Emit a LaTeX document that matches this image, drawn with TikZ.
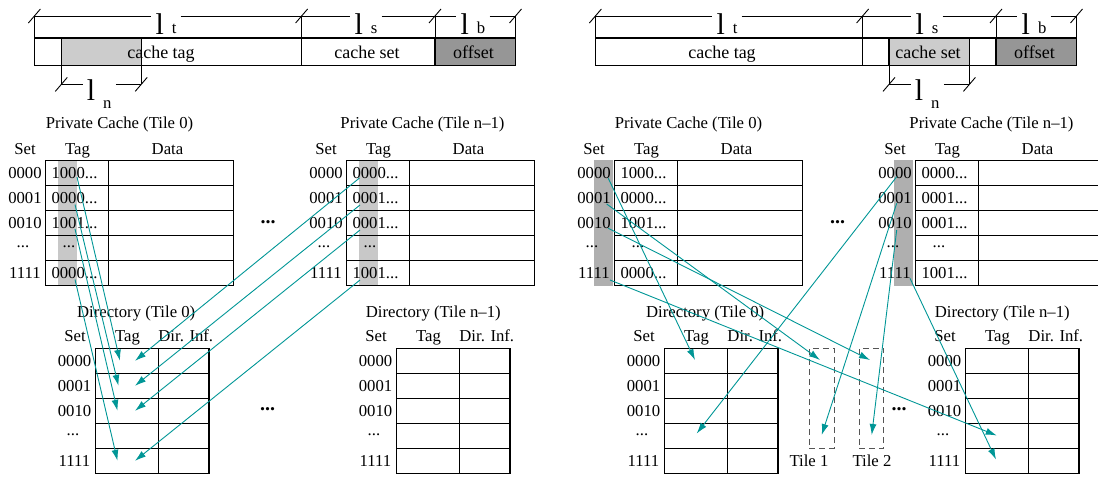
\documentclass[tikz,border=0pt]{standalone}
\usepackage{fontspec}
\setmainfont{Liberation Serif}
\usetikzlibrary{arrows.meta}

\definecolor{linkteal}{RGB}{0,150,150}
\definecolor{lightshade}{RGB}{204,204,204}
\definecolor{stripshade}{RGB}{200,200,200}
\definecolor{darkstrip}{RGB}{175,175,175}
\definecolor{offsetshade}{RGB}{150,150,150}
\definecolor{tileedge}{RGB}{85,85,85}

\tikzset{
  txt/.style={inner sep=0pt, anchor=base, font=\fontsize{16.7}{18}\selectfont},
  bartxt/.style={inner sep=0pt, anchor=base, font=\fontsize{18}{20}\selectfont},
  bigdots/.style={inner sep=0pt, anchor=base, font=\fontsize{20}{22}\selectfont\bfseries},
  frame/.style={line width=1.1pt, black},
  dimln/.style={line width=0.9pt, black},
  biglbl/.style={inner xsep=4pt, inner ysep=0pt, anchor=base},
  flow/.style={draw=linkteal, line width=0.9pt, -{Latex[length=11pt,width=7pt]}},
  tilebox/.style={draw=tileedge, line width=1pt, dash pattern=on 6pt off 4pt,
    minimum width=24.7pt, minimum height=100pt, inner sep=0pt},
}

% length label: big "l" followed by a smaller index letter
\newcommand{\lenlabel}[3]{{\fontsize{30}{30}\selectfont l}\kern#3\raisebox{#2}{\fontsize{16.7}{18}\selectfont #1}}
% slanted end mark of a dimension line
\newcommand{\dimtick}[2]{\draw[dimln] (#1-6,#2+7) -- (#1+6,#2-7);}

% address bar: #1 prefix, #2/#3 edges of the highlighted field
\newcommand{\addrbar}[3]{%
  \fill[offsetshade] (435,38) rectangle (515.5,65.5);
  \fill[lightshade] (#2,38) rectangle (#3,65.5);
  \draw[frame] (34.4,38) rectangle (515.5,65.5);
  \draw[frame] (301.6,38) -- (301.6,65.5) (435,38) -- (435,65.5);
  \draw[frame] (#2,38) rectangle (#3,65.5);
  \node[bartxt] (#1ftag) at (161,58.5) {cache tag};
  \node[bartxt] (#1fset) at (367,58.5) {cache set};
  \node[bartxt] (#1foff) at (473.5,58.5) {offset};
  % widths of the fields
  \coordinate (#1dy) at (0,16);
  \foreach \x in {34.4,301.6,435,515.5} {\draw[dimln] (\x,16) -- (\x,38); \dimtick{\x}{16}}
  \node[biglbl] (#1lt) at (166,34.5) {\lenlabel{t}{1pt}{8pt}};
  \node[biglbl] (#1ls) at (366,34.5) {\lenlabel{s}{1pt}{8pt}};
  \node[biglbl] (#1lb) at (473,34.5) {\lenlabel{b}{1pt}{8pt}};
  \draw[dimln] (34.4,16) -- (#1lt.west |- #1dy) (#1lt.east |- #1dy) -- (301.6,16);
  \draw[dimln] (301.6,16) -- (#1ls.west |- #1dy) (#1ls.east |- #1dy) -- (435,16);
  \draw[dimln] (435,16) -- (#1lb.west |- #1dy) (#1lb.east |- #1dy) -- (515.5,16);
  % width of the highlighted field
  \coordinate (#1ny) at (0,84.4);
  \draw[dimln] (#2,65.5) -- (#2,84.4) (#3,65.5) -- (#3,84.4);
  \dimtick{#2}{84.4}\dimtick{#3}{84.4}
  \node[biglbl] (#1ln) at ({(#2+#3)/2-2},100.5) {\lenlabel{n}{-7.5pt}{8pt}};
  \draw[dimln] (#2,84.4) -- (#1ln.west |- #1ny) (#1ln.east |- #1ny) -- (#3,84.4);
}

% private cache: #1 prefix, #2 x shift, #3 tile, #4 title x, #5-#8 tags
\newcommand{\cachetbl}[8]{%
  \begin{scope}[xshift=#2pt]
    \node[txt] (#1title) at (#4,128.5) {Private Cache (Tile #3)};
    \node[txt] (#1hset) at (25,154.3) {Set};
    \node[txt] (#1htag) at (77.5,154.3) {Tag};
    \node[txt] (#1hdata) at (167.5,154.3) {Data};
    \draw[frame] (45.7,160.7) rectangle (233.3,285.7);
    \foreach \y in {185.7,210.7,235.7,260.7} {\draw[frame] (45.7,\y) -- (233.3,\y);}
    \draw[frame] (108.3,160.7) -- (108.3,285.7);
    \node[txt] (#1s0) at (25,178.5) {0000};
    \node[txt] (#1s1) at (25,203.5) {0001};
    \node[txt] (#1s2) at (25,228.5) {0010};
    \node[txt] (#1s3) at (23,247.5) {...};
    \node[txt] (#1s4) at (25,278.5) {1111};
    \node[txt] (#1t0) at (74.5,178.5) {#5};
    \node[txt] (#1t1) at (74.5,203.5) {#6};
    \node[txt] (#1t2) at (74.5,228.5) {#7};
    \node[txt] (#1t3) at (69,247.5) {...};
    \node[txt] (#1t4) at (74.5,278.5) {#8};
  \end{scope}}

% directory: #1 prefix, #2 x shift, #3 tile, #4 title x
\newcommand{\dirtbl}[4]{%
  \begin{scope}[xshift=#2pt]
    \node[txt] (#1title) at (#4,317.7) {Directory (Tile #3)};
    \node[txt] (#1hset) at (75,341.7) {Set};
    \node[txt] (#1htag) at (127.5,341.7) {Tag};
    \node[txt] (#1hinf) at (185.8,341.7) {Dir. Inf.};
    \draw[frame] (95.7,348.3) rectangle (209,473.3);
    \foreach \y in {373.3,398.3,423.3,448.3} {\draw[frame] (95.7,\y) -- (209,\y);}
    \draw[frame] (158.3,348.3) -- (158.3,473.3);
    \node[txt] (#1s0) at (74.5,366.3) {0000};
    \node[txt] (#1s1) at (74.5,391.3) {0001};
    \node[txt] (#1s2) at (74.5,416.3) {0010};
    \node[txt] (#1s3) at (73,435) {...};
    \node[txt] (#1s4) at (74.5,466.3) {1111};
  \end{scope}}

\begin{document}
\begin{tikzpicture}[x=1pt,y=-1pt]
\useasboundingbox (0,0) rectangle (1098,477);
\clip (0,0) rectangle (1098,477);

% ---------- left: tag bits index the directory ----------
\addrbar{La-}{61.3}{141.2}

\fill[stripshade] (58.3,160.7) rectangle (76.7,285.7);
\fill[stripshade] (359,160.7) rectangle (377.7,285.7);
\cachetbl{Lc0-}{0}{0}{119.5}{1000...}{0000...}{1001...}{0000...}
\cachetbl{Lcn-}{301}{n--1}{121.5}{0000...}{0001...}{0001...}{1001...}
\node[bigdots] (Ldots1) at (268,223.5) {...};

\dirtbl{Ld0-}{0}{0}{136.2}
\dirtbl{Ldn-}{301}{n--1}{132.3}
\node[bigdots] (Ldots2) at (267.5,410) {...};

% ---------- right: set bits index the directory ----------
\begin{scope}[xshift=561pt]
  \addrbar{Ra-}{328}{408.4}
\end{scope}

\fill[darkstrip] (594.3,160) rectangle (612.7,285.7);
\fill[darkstrip] (894,160) rectangle (912.7,285.7);
\cachetbl{Rc0-}{569}{0}{119.5}{1000...}{0000...}{1001...}{0000...}
\cachetbl{Rcn-}{870}{n--1}{121.5}{0000...}{0001...}{0001...}{1001...}
\node[bigdots] (Rdots1) at (837.5,223.5) {...};

\dirtbl{Rd0-}{569}{0}{136.2}
\dirtbl{Rdn-}{870}{n--1}{132.3}
\node[bigdots] (Rdots2) at (899,410) {...};

\node[tilebox] (tile1) at (821.7,398.3) {};
\node[tilebox] (tile2) at (871.5,398.3) {};
\node[txt] (tile1lbl) at (809,466.5) {Tile 1};
\node[txt] (tile2lbl) at (872,466.5) {Tile 2};

% ---------- mapping arrows ----------
% left: tile 0 tags
\coordinate (L0a) at (77,177);    \coordinate (L0A) at (120,360.8);
\coordinate (L0b) at (75,204.5);  \coordinate (L0B) at (118.5,385.8);
\coordinate (L0c) at (75,229);    \coordinate (L0C) at (117.5,410.8);
\coordinate (L0d) at (75,279.5);  \coordinate (L0D) at (117.5,460.8);
% left: tile n-1 tags
\coordinate (Lna) at (359.5,178); \coordinate (LnA) at (135,360.8);
\coordinate (Lnb) at (360,205);   \coordinate (LnB) at (135,385.8);
\coordinate (Lnc) at (360,230);   \coordinate (LnC) at (135,410.8);
\coordinate (Lnd) at (360,280);   \coordinate (LnD) at (135,460.8);
% right: tile 0 sets
\coordinate (R0a) at (608.3,178.3); \coordinate (R0A) at (695,360);
\coordinate (R0b) at (606.7,204);   \coordinate (R0B) at (820,360);
\coordinate (R0c) at (608.3,228.3); \coordinate (R0C) at (870,360);
\coordinate (R0d) at (610,280);     \coordinate (R0D) at (996.7,435.5);
% right: tile n-1 sets
\coordinate (Rna) at (896.7,176.7); \coordinate (RnA) at (696.7,433.5);
\coordinate (Rnb) at (896.7,203.3); \coordinate (RnB) at (821.7,435);
\coordinate (Rnc) at (896.7,230);   \coordinate (RnC) at (871.7,435);
\coordinate (Rnd) at (910,278.3);   \coordinate (RnD) at (996,459.5);

\foreach \p in {L0,Ln,R0,Rn} {
  \draw[flow] (\p a) -- (\p A);
  \draw[flow] (\p b) -- (\p B);
  \draw[flow] (\p c) -- (\p C);
  \draw[flow] (\p d) -- (\p D);
}
\end{tikzpicture}
\end{document}
